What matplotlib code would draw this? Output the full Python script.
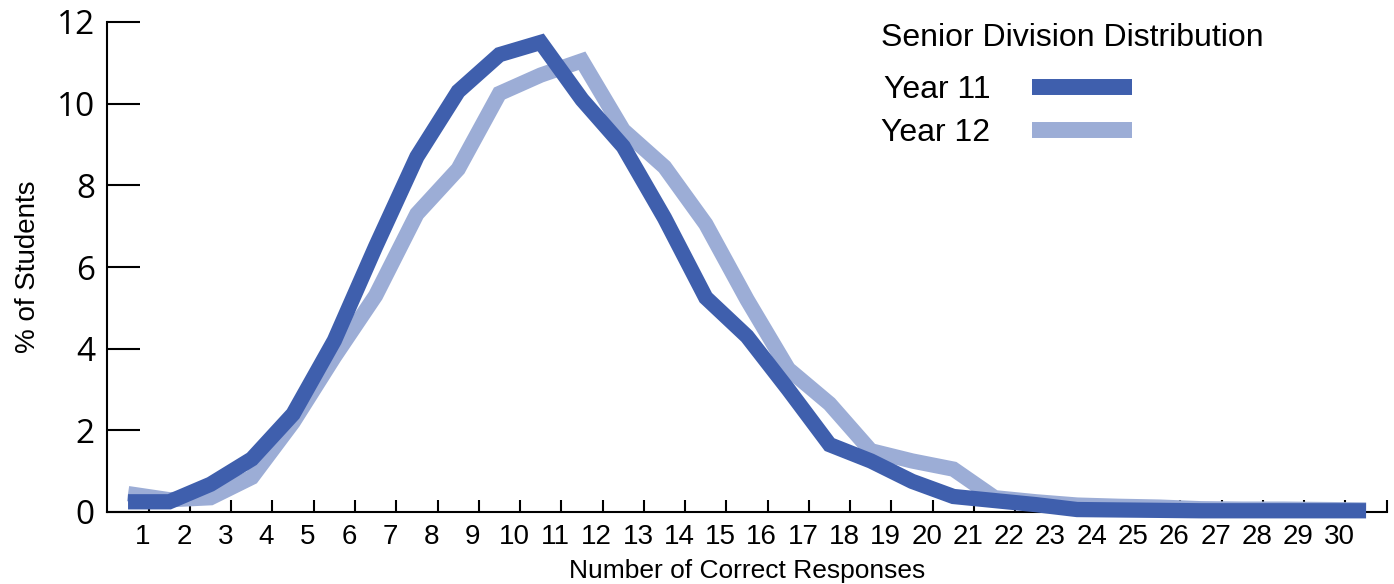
import numpy as np
import matplotlib.pyplot as plt
import matplotlib.transforms as mtransforms

# Data: % of students by number of correct responses (score 0..30)
scores = np.arange(0, 31)
year11 = [0.25, 0.25, 0.68, 1.3, 2.4, 4.2, 6.5, 8.7, 10.3, 11.2, 11.5, 10.1, 8.95, 7.2, 5.25, 4.3,
          3.0, 1.65, 1.25, 0.75, 0.38, 0.28, 0.18, 0.06, 0.05, 0.04, 0.03, 0.03, 0.03, 0.03, 0.03]
year12 = [0.45, 0.3, 0.35, 0.85, 2.2, 3.8, 5.3, 7.3, 8.4, 10.25, 10.7, 11.05, 9.35, 8.45, 7.05, 5.2,
          3.5, 2.65, 1.5, 1.25, 1.05, 0.35, 0.25, 0.17, 0.14, 0.12, 0.08, 0.07, 0.07, 0.06, 0.05]
xtick_labels = [str(i) for i in range(1, 31)]
yticks = [0, 2, 4, 6, 8, 10, 12]

dark = '#3F5FAD'
light = '#9CADD6'

W, H = 1394, 584
fig = plt.figure(figsize=(W / 100, H / 100), dpi=100)
ax = fig.add_axes([107.4 / W, 1 - 512 / H, (1386.7 - 107.4) / W, (512 - 22) / H])

x = scores + 0.5
ax.plot(x, year12, color=light, lw=11, solid_joinstyle='miter', solid_capstyle='butt',
        clip_on=False, label='Year 12', zorder=2)
ax.plot(x, year11, color=dark, lw=11, solid_joinstyle='miter', solid_capstyle='butt',
        clip_on=False, label='Year 11', zorder=3)

ax.set_xlim(0, 31)
ax.set_ylim(0, 12)

for s in ['top', 'right']:
    ax.spines[s].set_visible(False)
for s in ['left', 'bottom']:
    ax.spines[s].set_linewidth(1.5)
    ax.spines[s].set_color('black')

ax.set_xticks(range(1, 32))
ax.set_xticklabels(xtick_labels + [''], fontsize=20, family='Liberation Sans')
ax.set_yticks(yticks)
ax.set_yticklabels([str(v) for v in yticks], fontsize=24, family='Open Sans')
ax.tick_params(axis='x', direction='in', length=9, width=1.5, pad=9)
ax.tick_params(axis='y', direction='in', length=24, width=1.5, pad=9)

offset = mtransforms.ScaledTranslation(-6 / 100, 0, fig.dpi_scale_trans)
for lab in ax.get_xticklabels():
    lab.set_transform(lab.get_transform() + offset)

ax.set_xlabel('Number of Correct Responses', fontsize=19, family='Liberation Sans', labelpad=6)
ax.set_ylabel('% of Students', fontsize=20, family='Liberation Sans', labelpad=11)

handles, labels = ax.get_legend_handles_labels()
leg = ax.legend(handles[::-1], labels[::-1], title='Senior Division Distribution',
                loc='upper left', bbox_to_anchor=(881 / W, 1 - 23 / H),
                bbox_transform=fig.transFigure, frameon=False, markerfirst=False,
                alignment='left', borderpad=0, borderaxespad=0,
                prop={'family': 'Liberation Sans', 'size': 23},
                title_fontproperties={'family': 'Liberation Sans', 'size': 23},
                handlelength=3.15, handletextpad=1.3, labelspacing=0.39)
leg._legend_box.sep = 16
for line in leg.get_lines():
    line.set_linewidth(11.5)
    line.set_solid_capstyle('butt')

fig.savefig('out.png', dpi=100)
